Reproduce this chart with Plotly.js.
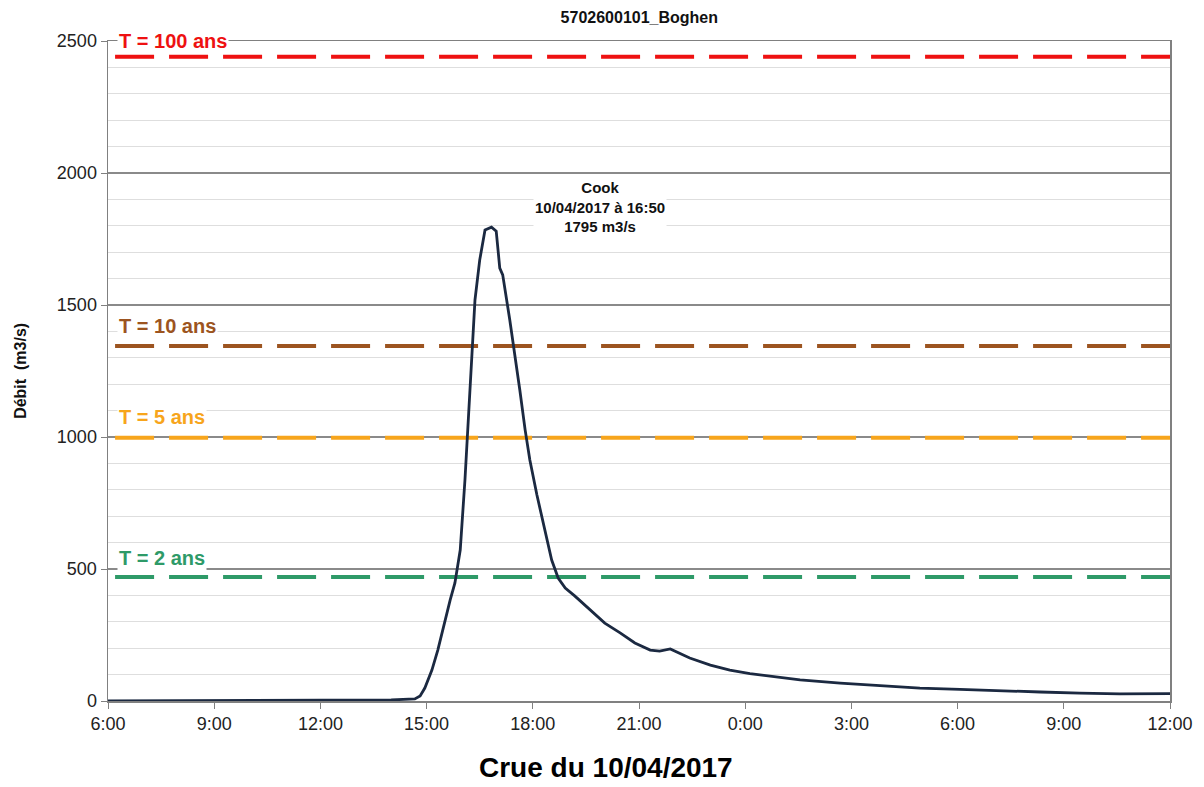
<!DOCTYPE html>
<html>
<head>
<meta charset="utf-8">
<script src="https://cdn.plot.ly/plotly-3.0.1.min.js"></script>
<style>html,body{margin:0;padding:0;background:#fff;}#chart{width:1204px;height:787px;}</style>
</head>
<body>
<div id="chart"></div>
<script>
// Hydrograph (time, discharge m3/s)
const times = [
  "2017-04-10 06:00","2017-04-10 08:30","2017-04-10 09:00","2017-04-10 12:00","2017-04-10 14:00",
  "2017-04-10 14:40","2017-04-10 14:49","2017-04-10 14:57","2017-04-10 15:09","2017-04-10 15:19",
  "2017-04-10 15:31","2017-04-10 15:40","2017-04-10 15:48","2017-04-10 15:57","2017-04-10 16:05",
  "2017-04-10 16:14","2017-04-10 16:22","2017-04-10 16:30","2017-04-10 16:39","2017-04-10 16:50",
  "2017-04-10 16:58","2017-04-10 17:04","2017-04-10 17:09","2017-04-10 17:21","2017-04-10 17:30",
  "2017-04-10 17:38","2017-04-10 17:47","2017-04-10 17:55","2017-04-10 18:07","2017-04-10 18:21",
  "2017-04-10 18:32","2017-04-10 18:43","2017-04-10 18:55","2017-04-10 19:11","2017-04-10 19:37",
  "2017-04-10 20:02","2017-04-10 20:28","2017-04-10 20:53","2017-04-10 21:19","2017-04-10 21:35",
  "2017-04-10 21:53","2017-04-10 22:26","2017-04-10 23:01","2017-04-10 23:34","2017-04-11 00:08",
  "2017-04-11 00:42","2017-04-11 01:33","2017-04-11 02:41","2017-04-11 03:49","2017-04-11 04:56",
  "2017-04-11 06:04","2017-04-11 07:12","2017-04-11 08:20","2017-04-11 09:27","2017-04-11 10:35",
  "2017-04-11 12:00"
];
const debit = [
  0, 1, 3, 3, 4,
  8, 19, 49, 117, 193,
  307, 383, 447, 572, 837,
  1178, 1519, 1670, 1784, 1795,
  1780, 1640, 1614, 1443, 1311,
  1178, 1027, 913, 780, 648,
  534, 466, 428, 398, 345,
  295, 258, 220, 193, 189,
  197, 163, 136, 117, 104,
  94, 80, 68, 57, 49,
  44, 38, 34, 30, 27,
  28
];

// Return-period thresholds
const seuilLabels = ["T = 100 ans","T = 10 ans","T = 5 ans","T = 2 ans"];
const seuilValues = [2440, 1345, 997, 470];
const seuilColors = ["#ee1111","#9c5420","#f7a51c","#2e9a68"];
const seuilLabelY = [2499, 1420, 1076, 542];

const xStart = "2017-04-10 06:12";
const xEnd = "2017-04-11 12:00";
const FONT = "Liberation Sans, Arial, sans-serif";

const traces = [];
seuilValues.forEach((v,i)=>{
  traces.push({
    x:[xStart,xEnd], y:[v,v], type:"scatter", mode:"lines",
    line:{color:seuilColors[i], width:4, dash:"39px,15px"},
    hoverinfo:"skip", showlegend:false
  });
});
traces.push({
  x: times, y: debit, type:"scatter", mode:"lines",
  line:{color:"#1b2941", width:2.8}, showlegend:false, hoverinfo:"skip"
});

const annotations = seuilLabels.map((t,i)=>({
  x:"2017-04-10 06:15", y:seuilLabelY[i], xref:"x", yref:"y",
  text:"<b>"+t+"</b>", showarrow:false, xanchor:"left", yanchor:"middle",
  font:{family:FONT, size:20, color:seuilColors[i]},
  bgcolor:"#ffffff", borderpad:1
}));
annotations.push({
  x:"2017-04-10 19:54", y:1870, xref:"x", yref:"y",
  text:"<b>Cook<br>10/04/2017 à 16:50<br>1795 m3/s</b>", showarrow:false,
  font:{family:FONT, size:15, color:"#111"},
  bgcolor:"#ffffff", align:"center"
});
annotations.push({
  x:0.469, y:-0.1, xref:"paper", yref:"paper", yanchor:"middle",
  text:"<b>Crue du 10/04/2017</b>", showarrow:false,
  font:{family:FONT, size:28, color:"#000"}, borderpad:0
});
annotations.push({
  x:-0.083, y:0.5, xref:"paper", yref:"paper", xanchor:"center", yanchor:"middle",
  text:"<b>Débit  (m3/s)</b>", showarrow:false, textangle:-90,
  font:{family:FONT, size:16, color:"#111"}
});

const layout = {
  width:1204, height:787,
  margin:{l:108, r:34, t:41, b:86},
  paper_bgcolor:"#ffffff", plot_bgcolor:"#ffffff",
  title:{text:"<b>5702600101_Boghen</b>", x:0.531, xanchor:"center", y:0.978, yanchor:"middle",
    font:{family:FONT, size:16, color:"#111"}},
  xaxis:{
    type:"date", range:["2017-04-10 06:00","2017-04-11 12:00"],
    tick0:"2017-04-10 06:00", dtick:3*3600*1000, tickformat:"%-H:%M",
    showgrid:false, zeroline:false, showline:true, linecolor:"#808080", linewidth:1.5,
    mirror:true, ticks:"outside", ticklen:6, tickcolor:"#808080",
    tickfont:{family:FONT, size:18, color:"#222"}
  },
  yaxis:{
    range:[0,2500], tick0:0, dtick:500,
    showgrid:true, gridcolor:"#8a8a8a", gridwidth:1.2, zeroline:false,
    showline:true, linecolor:"#808080", linewidth:1.5, mirror:true,
    ticks:"outside", ticklen:6, tickcolor:"#808080",
    minor:{dtick:100, showgrid:true, gridcolor:"#dedede", gridwidth:1, ticks:""},
    tickfont:{family:FONT, size:18, color:"#222"}
  },
  annotations: annotations,
  showlegend:false, hovermode:false
};

Plotly.newPlot("chart", traces, layout, {displayModeBar:false, staticPlot:true});
</script>
</body>
</html>
